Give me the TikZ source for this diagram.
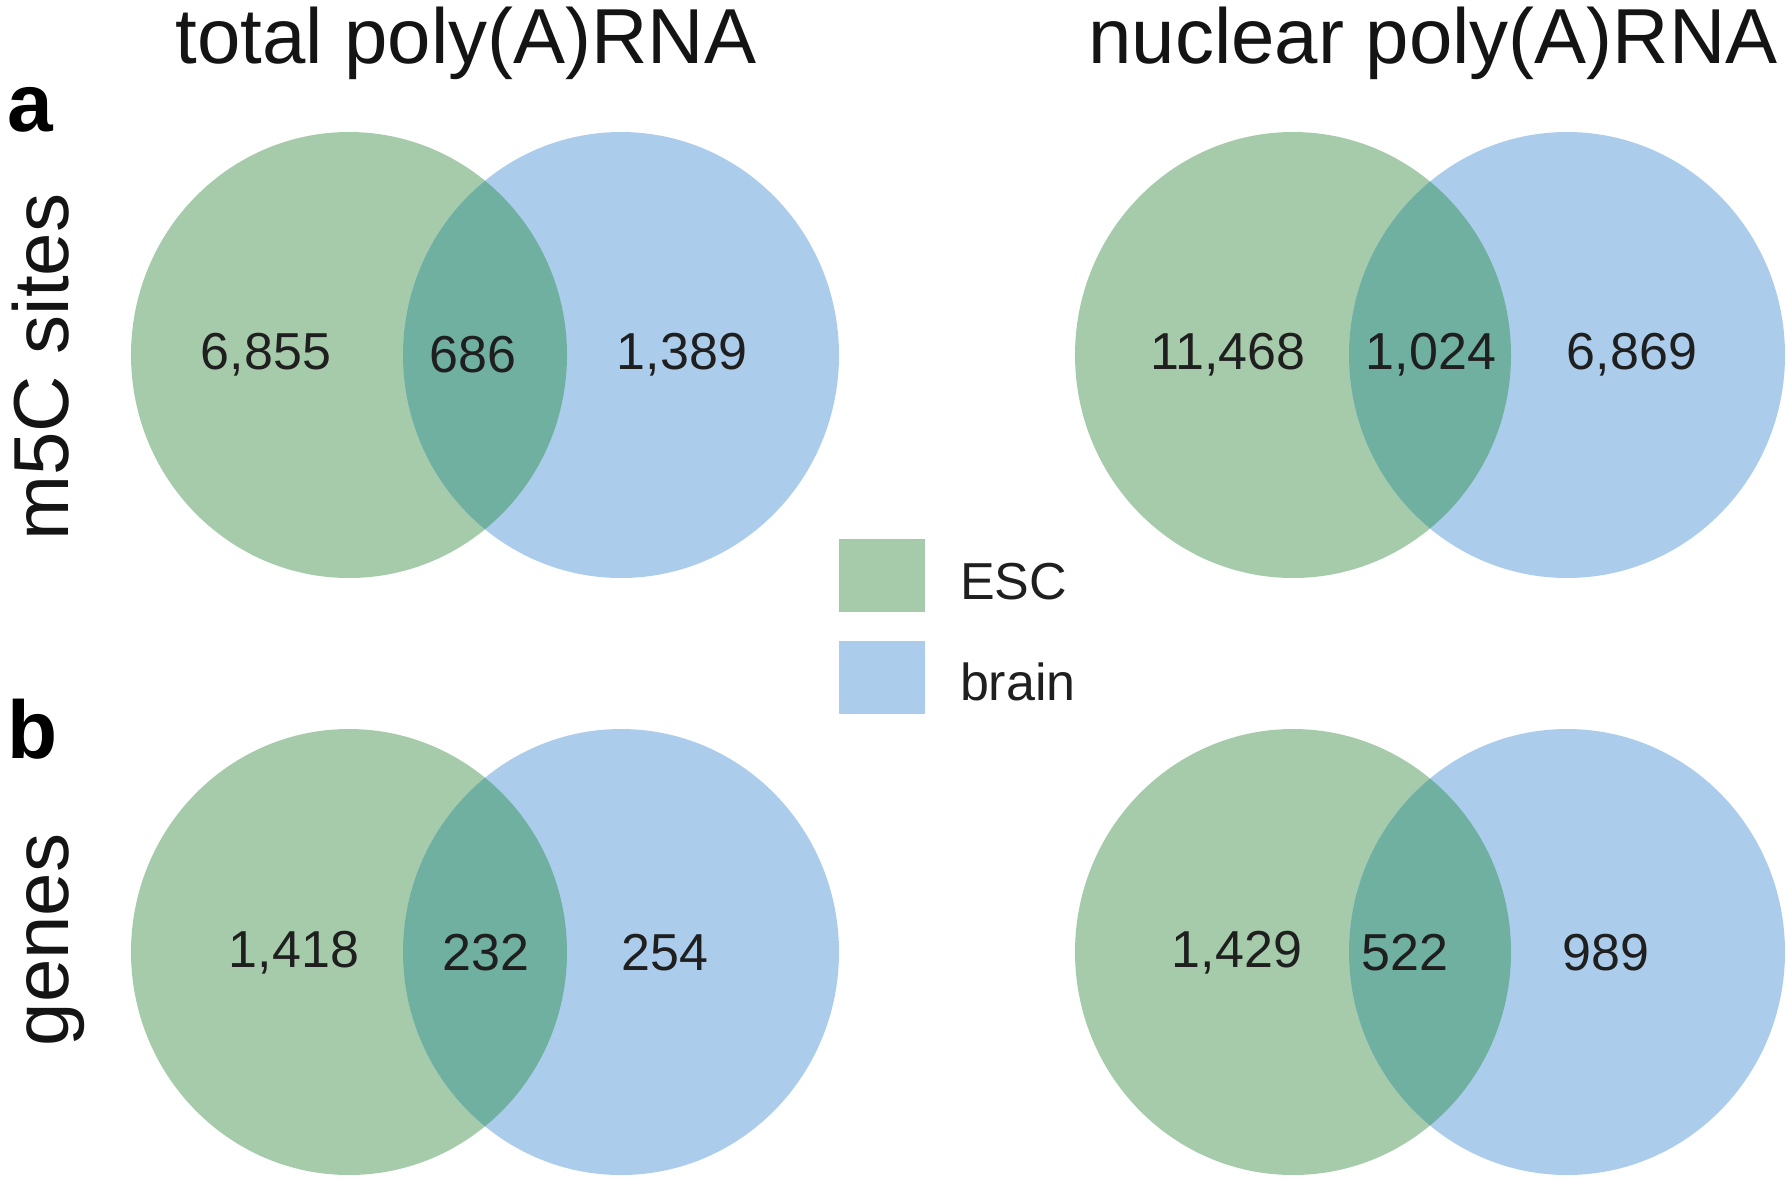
\documentclass[tikz,border=0pt]{standalone}
\usepackage{fontspec}
\setmainfont{Liberation Sans}
\definecolor{escverde}{RGB}{166,203,171}
\definecolor{cerebroazul}{RGB}{171,205,235}
\definecolor{sobreposto}{RGB}{112,176,161}

\begin{document}
\begin{tikzpicture}[x=0.5pt, y=-0.5pt,
    circulo/.style={x radius=109pt, y radius=111.5pt},
    numero/.style={font=\fontsize{26}{30}\selectfont, text=black!88, anchor=center},
    titulo/.style={font=\fontsize{39}{44}\selectfont, text=black!92, anchor=base},
    letra/.style={font=\fontsize{41}{46}\selectfont\bfseries, anchor=base west},
    legenda/.style={font=\fontsize{26}{30}\selectfont, text=black!88, anchor=west}]
        \useasboundingbox (0,0) rectangle (1788,1180);
        \coordinate (gA) at (349,355); \coordinate (bA) at (621,355);   % a, total
        \coordinate (gN) at (1293,355); \coordinate (bN) at (1567,355); % a, nuclear
        \coordinate (gB) at (349,952); \coordinate (bB) at (621,952);   % b, total
        \coordinate (gM) at (1293,952); \coordinate (bM) at (1567,952); % b, nuclear
        \fill[escverde] (gA) ellipse [circulo] (gN) ellipse [circulo] (gB) ellipse [circulo] (gM) ellipse [circulo]; % ESC
        \fill[cerebroazul] (bA) ellipse [circulo] (bN) ellipse [circulo] (bB) ellipse [circulo] (bM) ellipse [circulo]; % brain
        \begin{scope} \clip (gA) ellipse [circulo]; \fill[sobreposto] (bA) ellipse [circulo]; \end{scope} % intersecao
        \begin{scope} \clip (gN) ellipse [circulo]; \fill[sobreposto] (bN) ellipse [circulo]; \end{scope}
        \begin{scope} \clip (gB) ellipse [circulo]; \fill[sobreposto] (bB) ellipse [circulo]; \end{scope}
        \begin{scope} \clip (gM) ellipse [circulo]; \fill[sobreposto] (bM) ellipse [circulo]; \end{scope}
        \node[numero] (nA1) at (266,355) {6,855}; \node[numero] (nA2) at (473,355) {686}; \node[numero] (nA3) at (682,355) {1,389};
        \node[numero] (nN1) at (1228,355) {11,468}; \node[numero] (nN2) at (1431,355) {1,024}; \node[numero] (nN3) at (1632,355) {6,869};
        \node[numero] (nB1) at (294,953) {1,418}; \node[numero] (nB2) at (486,953) {232}; \node[numero] (nB3) at (665,953) {254};
        \node[numero] (nM1) at (1237,953) {1,429}; \node[numero] (nM2) at (1405,953) {522}; \node[numero] (nM3) at (1606,953) {989};
        \node[titulo] (tTotal) at (466,63) {total poly(A)RNA}; % cabecalhos
        \node[titulo] (tNuclear) at (1433,63) {nuclear poly(A)RNA};
        \node[letra] (la) at (0,131) {a}; \node[letra] (lb) at (0,758) {b};
        \node[titulo, rotate=90] (ySitios) at (68,367) {m5C sites};
        \node[titulo, rotate=90] (yGenes) at (68,940) {genes};
        \fill[escverde] (839,539) rectangle (925,612); % legenda
        \fill[cerebroazul] (839,641) rectangle (925,714);
        \node[legenda] (lESC) at (953,582) {ESC};
        \node[legenda] (lBrain) at (953,682) {brain};
    \end{tikzpicture}
\end{document}
